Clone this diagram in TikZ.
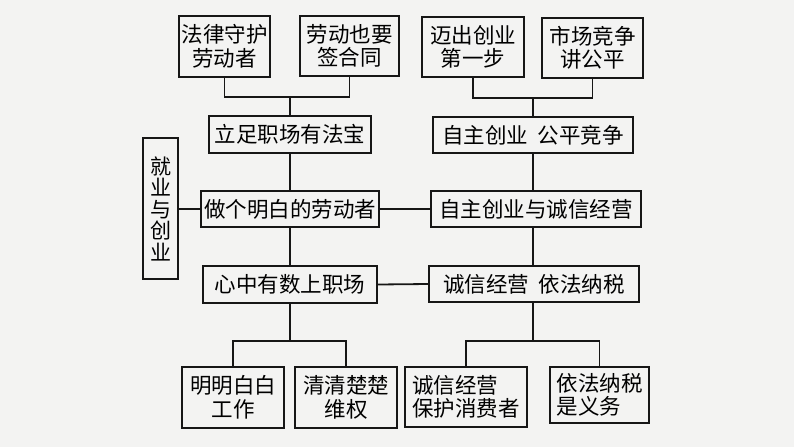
\documentclass[tikz,border=0pt]{standalone}
\usepackage{fontspec}
\newfontfamily\cjk{Noto Sans CJK SC}
\definecolor{paper}{RGB}{243,243,242}
\definecolor{ink}{RGB}{22,22,22}
\begin{document}
\begin{tikzpicture}[x=1pt,y=-1pt,
  box/.style={draw=ink,line width=2pt,rectangle,inner sep=0pt,align=center,
    font=\cjk\fontsize{21.5}{23.5}\selectfont,text=black},
  link/.style={draw=ink,line width=1.8pt}]
\fill[paper] (0,0) rectangle (794,447);
\useasboundingbox (0,0) rectangle (794,447);
% left column
\node[box,minimum width=91pt,minimum height=61pt] (law) at (224.5,46.5) {法律守护\\劳动者};
\node[box,minimum width=99pt,minimum height=60pt] (contract) at (349.5,46) {劳动也要\\签合同};
\node[box,minimum width=162pt,minimum height=37pt] (lizu) at (290,134.5) {立足职场有法宝};
\node[box,minimum width=178pt,minimum height=36pt] (zuoge) at (290,209) {做个明白的劳动者};
\node[box,minimum width=35pt,minimum height=141pt,font=\cjk\fontsize{21}{21.5}\selectfont] (side) at (160.5,208.5) {就\\业\\与\\创\\业};
\node[box,minimum width=174pt,minimum height=37pt] (xin) at (290,284.5) {心中有数上职场};
\node[box,minimum width=102pt,minimum height=61pt] (ming) at (233,397.5) {明明白白\\工作};
\node[box,minimum width=102pt,minimum height=61pt] (qing) at (346,397.5) {清清楚楚\\维权};
% right column
\node[box,minimum width=102pt,minimum height=60pt] (maichu) at (473,47) {迈出创业\\第一步};
\node[box,minimum width=101pt,minimum height=60pt] (shichang) at (592.5,48) {市场竞争\\讲公平};
\node[box,minimum width=200pt,minimum height=36pt] (zizhu) at (533,135) {自主创业\hspace{0.45em}公平竞争};
\node[box,minimum width=210pt,minimum height=36pt] (zizhuyu) at (536,209) {自主创业与诚信经营};
\node[box,minimum width=210pt,minimum height=36pt] (cheng) at (534,284) {诚信经营\hspace{0.45em}依法纳税};
\node[box,minimum width=122pt,minimum height=60pt,align=left] (baohu) at (466,397) {诚信经营\\保护消费者};
\node[box,minimum width=99pt,minimum height=56pt,align=left] (yifa) at (599.5,395) {依法纳税\\是义务};
% junctions
\coordinate (j1) at (290,97);
\coordinate (j2) at (533,98);
\coordinate (j3) at (290,341);
\coordinate (j4) at (533,341);
% connectors
\draw[link] (law.south) |- (j1) -| (contract.south);
\draw[link] (j1) -- (lizu.north);
\draw[link] (lizu.south) -- (zuoge.north);
\draw[link] (zuoge.south) -- (xin.north);
\draw[link] (xin.south) -- (j3);
\draw[link] (ming.north) |- (j3) -| (qing.north);
\draw[link] (maichu.south) |- (j2) -| (shichang.south);
\draw[link] (j2) -- (zizhu.north);
\draw[link] (zizhu.south) -- (zizhu.south |- zizhuyu.north);
\draw[link] (zizhu.south |- zizhuyu.south) -- (zizhu.south |- cheng.north);
\draw[link] (zizhu.south |- cheng.south) -- (j4);
\draw[link] (baohu.north) |- (j4) -| (yifa.north);
\draw[link] (side.east |- zuoge.west) -- (zuoge.west);
\draw[link] (zuoge.east) -- (zizhuyu.west);
\draw[link] (xin.east) -- (cheng.west);
\end{tikzpicture}
\end{document}
